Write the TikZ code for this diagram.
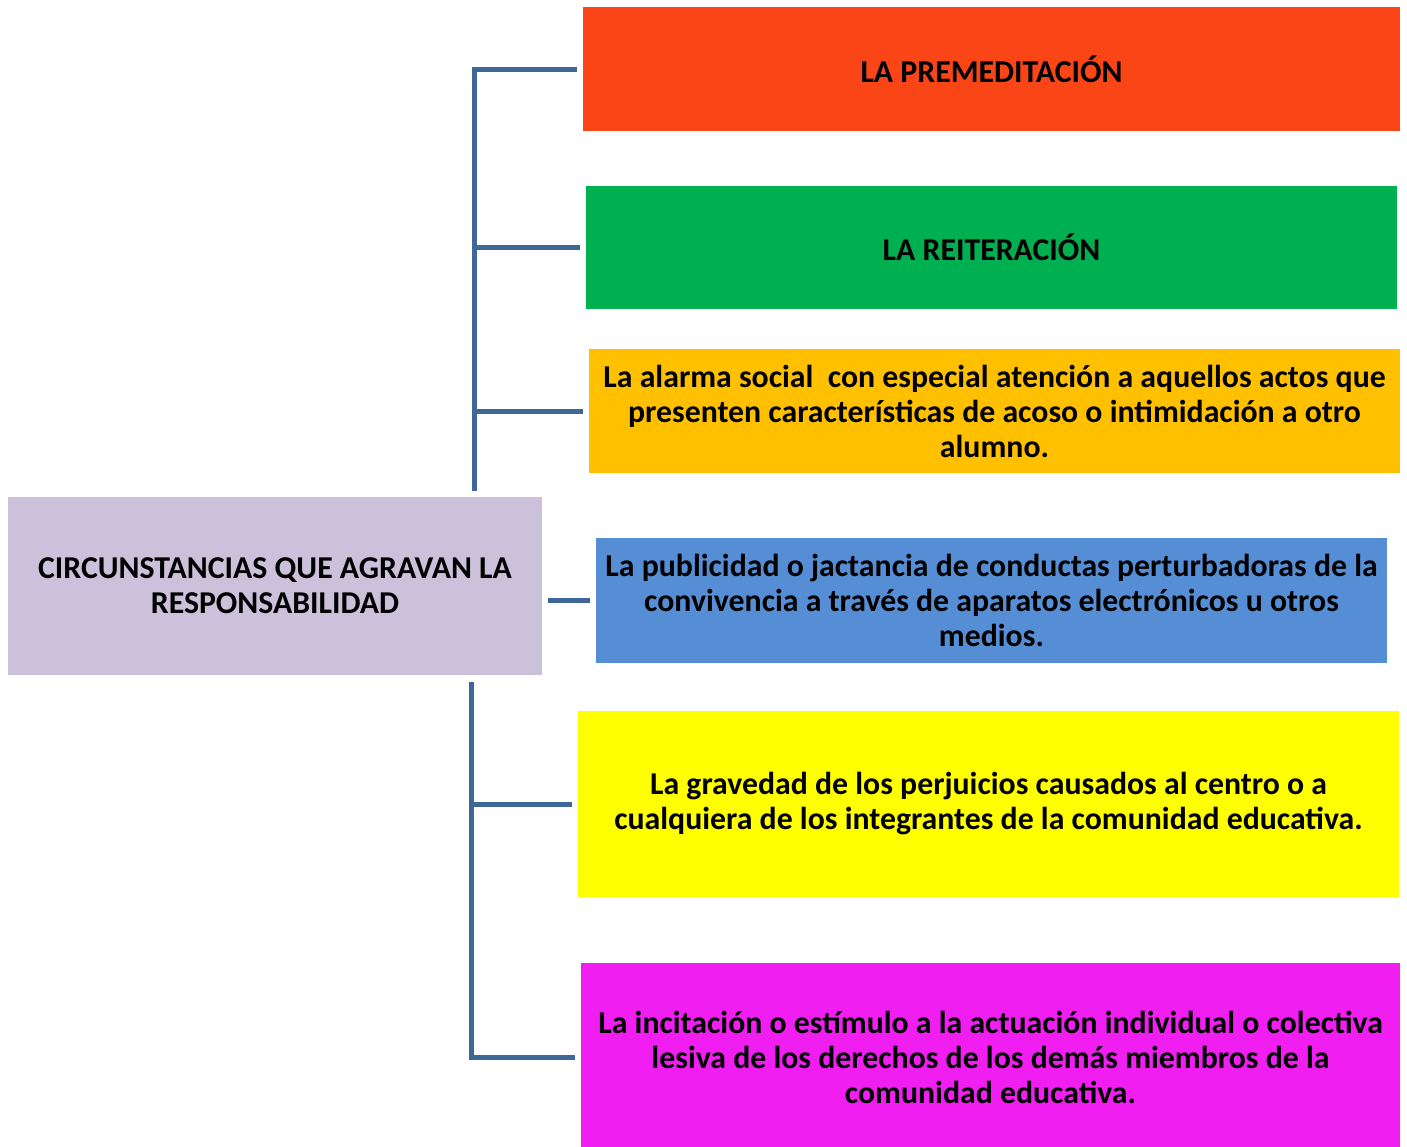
\documentclass[tikz,border=0pt]{standalone}
\usepackage{fontspec}
\setmainfont{Carlito}
\definecolor{naranja}{HTML}{FA4616}
\definecolor{verde}{HTML}{00B050}
\definecolor{ambar}{HTML}{FFC000}
\definecolor{azulcaja}{HTML}{558ED5}
\definecolor{amarillo}{HTML}{FFFF00}
\definecolor{magenta}{HTML}{F01EF0}
\definecolor{lila}{HTML}{CCC1DA}
\definecolor{azulrama}{HTML}{3F6797}
\begin{document}
\begin{tikzpicture}[x=0.5pt,y=-0.5pt,
    caja/.style={inner sep=0pt,align=center,font=\fontsize{15.9}{17.5}\selectfont\bfseries},
    conector/.style={draw=azulrama,line width=2.5pt,shorten >=3pt}]
    \useasboundingbox (0,0) rectangle (1407,1146);
    \clip (0,0) rectangle (1407,1146);
    % central box
    \node[caja,fill=lila,minimum width=267pt,minimum height=89pt] (circ) at (275,586)
        {CIRCUNSTANCIAS QUE AGRAVAN LA\\RESPONSABILIDAD};
    % boxes on the right
    \node[caja,fill=naranja,minimum width=408.5pt,minimum height=62pt] (prem) at (991.5,69)
        {LA PREMEDITACIÓN};
    \node[caja,fill=verde,minimum width=405.5pt,minimum height=61.5pt] (reit) at (991.5,247.5)
        {LA REITERACIÓN};
    \node[caja,fill=ambar,minimum width=405.5pt,minimum height=62pt] (alar) at (994.5,411)
        {La alarma social\ \ con especial atención a aquellos actos que\\presenten características de acoso o intimidación a otro\\alumno.};
    \node[caja,fill=azulcaja,minimum width=395.5pt,minimum height=62.5pt] (publ) at (991.5,600.5)
        {La publicidad o jactancia de conductas perturbadoras de la\\convivencia a través de aparatos electrónicos u otros\\medios.};
    \node[caja,fill=amarillo,minimum width=410.5pt,minimum height=93pt] (grav) at (988.5,804)
        {La gravedad de los perjuicios causados al centro o a\\cualquiera de los integrantes de la comunidad educativa.};
    \node[caja,fill=magenta,minimum width=409.5pt,minimum height=94pt] (inci) at (990.5,1057)
        {La incitación o estímulo a la actuación individual o colectiva\\lesiva de los derechos de los demás miembros de la\\comunidad educativa.};
    % connectors
    \coordinate (arriba) at (474,491);
    \coordinate (abajo) at (471,682);
    \draw[conector] (arriba) |- (prem.west);
    \draw[conector] (arriba |- reit.west) -- (reit.west);
    \draw[conector] (arriba |- alar.west) -- (alar.west);
    \draw[conector,shorten <=3pt] (circ.east |- publ.west) -- (publ.west);
    \draw[conector] (abajo) |- (inci.west);
    \draw[conector] (abajo |- grav.west) -- (grav.west);
\end{tikzpicture}
\end{document}
